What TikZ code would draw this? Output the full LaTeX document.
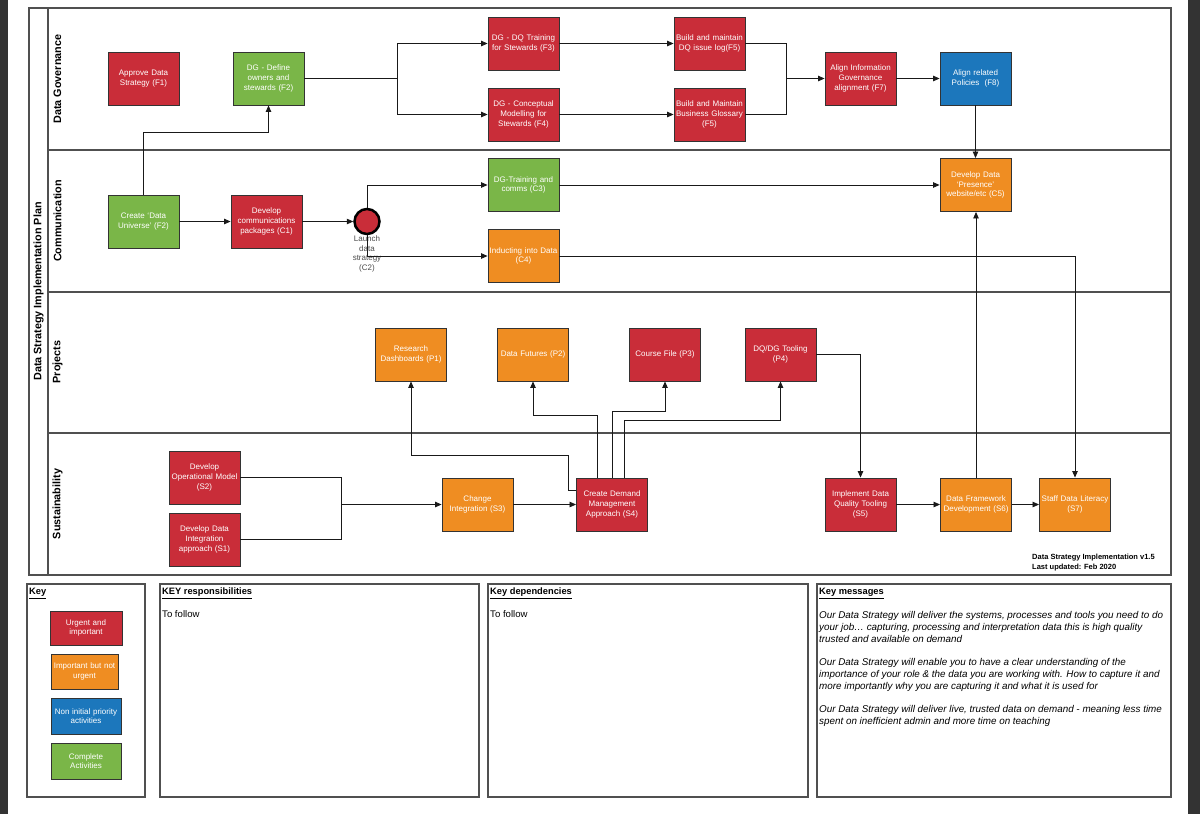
\documentclass[tikz,border=0pt]{standalone}
\usepackage{fontspec}
\setmainfont{Liberation Sans}
\usetikzlibrary{arrows.meta,calc}
\definecolor{cred}{HTML}{C92D39}
\definecolor{corange}{HTML}{EF8D22}
\definecolor{cblue}{HTML}{1C77BC}
\definecolor{cgreen}{HTML}{7AB648}
\definecolor{cside}{HTML}{333333}
\definecolor{cframe}{HTML}{505050}
\begin{document}
\begin{tikzpicture}[x=1pt,y=-1pt,
  box/.style={draw=black!80, line width=0.9pt, minimum width=71pt, minimum height=53pt,
    text width=69pt, align=center, inner sep=0pt, text=white,
    font=\fontsize{8}{9.7}\selectfont},
  redbox/.style={box, fill=cred},
  orangebox/.style={box, fill=corange},
  bluebox/.style={box, fill=cblue},
  greenbox/.style={box, fill=cgreen},
  arr/.style={draw=black!90, line width=0.8pt, -{Triangle[length=6.5pt,width=5.5pt]}},
  ln/.style={draw=black!90, line width=0.8pt},
  lane/.style={draw=cframe, line width=1.2pt},
  lanelabel/.style={rotate=90, font=\bfseries\fontsize{10.8}{13}\selectfont, inner sep=0pt},
  keyframe/.style={draw=cframe, line width=1.2pt},
  keytitle/.style={anchor=base west, inner sep=0pt, font=\bfseries\fontsize{9.3}{11}\selectfont},
  keytext/.style={anchor=base west, inner sep=0pt, font=\fontsize{9.6}{11.75}\selectfont},
  legend/.style={box, minimum height=34pt}
]
\useasboundingbox (0,0) rectangle (1200,814);
\fill[white] (0,0) rectangle (1200,814);
\fill[cside] (0,0) rectangle (8,814);
\fill[cside] (1188,0) rectangle (1200,814);

% frame and lanes
\draw[lane] (29,8) rectangle (1171,575);
\draw[lane] (48,8) -- (48,575);
\draw[lane] (48,150) -- (1171,150);
\draw[lane] (48,292) -- (1171,292);
\draw[lane] (48,433) -- (1171,433);

\node[lanelabel] (title) at (38.5,291.5) {Data Strategy Implementation Plan};
\node[lanelabel] (ldg) at (57.5,79) {Data Governance};
\node[lanelabel] (lcm) at (57.5,221) {Communication};
\node[lanelabel] (lpr) at (57.5,362) {Projects};
\node[lanelabel] (lsu) at (57.5,504) {Sustainability};

% Data Governance
\node[redbox] (F1) at (143.5,78.5) {Approve Data\\Strategy (F1)};
\node[greenbox] (F2) at (268.5,78.5) {DG - Define\\owners and\\stewards (F2)};
\node[redbox] (F3) at (523.5,43.5) {DG - DQ Training\\for Stewards (F3)};
\node[redbox] (F4) at (523.5,114.5) {DG - Conceptual\\Modelling for\\Stewards (F4)};
\node[redbox] (F5a) at (709.5,43.5) {Build and maintain\\DQ issue log(F5)};
\node[redbox] (F5b) at (709.5,114.5) {Build and Maintain\\Business Glossary\\(F5)};
\node[redbox] (F7) at (860.5,78.5) {Align Information\\Governance\\alignment (F7)};
\node[bluebox] (F8) at (975.5,78.5) {Align related\\Policies~~(F8)};

% Communication
\node[greenbox] (F2c) at (143.5,221.5) {Create `Data\\Universe' (F2)};
\node[redbox] (C1) at (266.5,221.5) {Develop\\communications\\packages (C1)};
\node[circle, draw=black, line width=2.5pt, fill=cred, minimum size=25pt, inner sep=0pt] (C2) at (367,221.5) {};
\node[anchor=north, inner sep=0pt, align=center, text=black!70, font=\fontsize{8}{9.7}\selectfont] (C2l) at (367,235.5) {Launch\\data\\strategy\\(C2)};
\node[greenbox] (C3) at (523.5,185) {DG-Training and\\comms (C3)};
\node[orangebox] (C4) at (523.5,256) {Inducting into Data\\(C4)};
\node[orangebox] (C5) at (975.5,185) {Develop Data\\`Presence'\\website/etc (C5)};

% Projects
\node[orangebox] (P1) at (411,354.5) {Research\\Dashboards (P1)};
\node[orangebox] (P2) at (533,354.5) {Data Futures (P2)};
\node[redbox] (P3) at (665,354.5) {Course File (P3)};
\node[redbox] (P4) at (780.5,354.5) {DQ/DG Tooling\\(P4)};

% Sustainability
\node[redbox] (S2) at (204.5,477.5) {Develop\\Operational Model\\(S2)};
\node[redbox] (S1) at (204.5,539.5) {Develop Data\\Integration\\approach (S1)};
\node[orangebox] (S3) at (477.5,504.5) {Change\\Integration (S3)};
\node[redbox] (S4) at (612,504.5) {Create Demand\\Management\\Approach (S4)};
\node[redbox] (S5) at (860.5,504.5) {Implement Data\\Quality Tooling\\(S5)};
\node[orangebox] (S6) at (976,504.5) {Data Framework\\Development (S6)};
\node[orangebox] (S7) at (1075,504.5) {Staff Data Literacy\\(S7)};

\node[anchor=north west, inner sep=0pt, align=left, font=\bfseries\fontsize{7.5}{10}\selectfont] (ver) at (1032,553.5) {Data Strategy Implementation v1.5\\Last updated: Feb 2020};

% connectors
\coordinate (j1) at (143.5,132);
\draw[arr] (F2c.north) -- (j1) -| (F2.south);
\coordinate (sp1) at (397,78.5);
\draw[ln] (F2.east) -- (sp1);
\draw[arr] (sp1) |- (F3.west);
\draw[arr] (sp1) |- (F4.west);
\draw[arr] (F3.east) -- (F5a.west);
\draw[arr] (F4.east) -- (F5b.west);
\coordinate (mg1) at (786,78.5);
\draw[ln] (F5a.east) -| (mg1);
\draw[ln] (F5b.east) -| (mg1);
\draw[arr] (mg1) -- (F7.west);
\draw[arr] (F7.east) -- (F8.west);
\draw[arr] (F8.south) -- (C5.north);

\draw[arr] (F2c.east) -- (C1.west);
\draw[arr] (C1.east) -- (C2.west);
\draw[arr] (C2.north) |- (C3.west);
\draw[arr] (C2.south) |- (C4.west);
\draw[arr] (C3.east) -- (C5.west);
\draw[arr] (C4.east) -| (S7.north);
\draw[arr] (S6.north) -- (S6.north |- C5.south);

\coordinate (mg2) at (341,504.5);
\draw[ln] (S2.east) -| (mg2);
\draw[ln] (S1.east) -| (mg2);
\draw[arr] (mg2) -- (S3.west);
\draw[arr] (S3.east) -- (S4.west);

\coordinate (b1) at (568,455);
\draw[arr] ([yshift=14.5pt]S4.west) -| (b1) -| (P1.south);
\coordinate (b2) at (597,415);
\draw[arr] ([xshift=-15pt]S4.north) -- (b2) -| (P2.south);
\coordinate (b3) at (612,411);
\draw[arr] (S4.north) -- (b3) -| (P3.south);
\coordinate (b4) at (624,420);
\draw[arr] ([xshift=12pt]S4.north) -- (b4) -| (P4.south);
\draw[arr] (P4.east) -| (S5.north);
\draw[arr] (S5.east) -- (S6.west);
\draw[arr] (S6.east) -- (S7.west);

% key area
\draw[keyframe] (27,584) rectangle (145,797);
\draw[keyframe] (160,584) rectangle (479,797);
\draw[keyframe] (488,584) rectangle (808,797);
\draw[keyframe] (817,584) rectangle (1171,797);

\node[keytitle] (kt1) at (29,594.5) {\underline{Key}};
\node[legend, fill=cred, minimum width=72pt] (k1) at (86,628) {Urgent and\\important};
\node[legend, fill=corange, minimum width=67pt, text width=66pt, minimum height=35pt] (k2) at (84.5,671.5) {Important but not\\urgent};
\node[legend, fill=cblue, minimum width=70pt, minimum height=36pt] (k3) at (86,716) {Non initial priority\\activities};
\node[legend, fill=cgreen, minimum width=70pt, minimum height=36pt] (k4) at (86,761) {Complete\\Activities};

\node[keytitle] (kt2) at (162,594.5) {\underline{KEY responsibilities}};
\node[keytext] (kx2) at (162,617.5) {To follow};
\node[keytitle] (kt3) at (490,594.5) {\underline{Key dependencies}};
\node[keytext] (kx3) at (490,617.5) {To follow};
\node[keytitle] (kt4) at (819,594.5) {\underline{Key messages}};
\node[anchor=north west, inner sep=0pt, align=left, font=\itshape\fontsize{9.85}{11.75}\selectfont] (kx4) at (819,611.3) {Our Data Strategy will deliver the systems, processes and tools you need to do\\
your job\dots{} capturing, processing and interpretation data this is high quality\\
trusted and available on demand\\[11.75pt]
Our Data Strategy will enable you to have a clear understanding of the\\
importance of your role \& the data you are working with. How to capture it and\\
more importantly why you are capturing it and what it is used for\\[11.75pt]
Our Data Strategy will deliver live, trusted data on demand - meaning less time\\
spent on inefficient admin and more time on teaching};
\end{tikzpicture}
\end{document}
